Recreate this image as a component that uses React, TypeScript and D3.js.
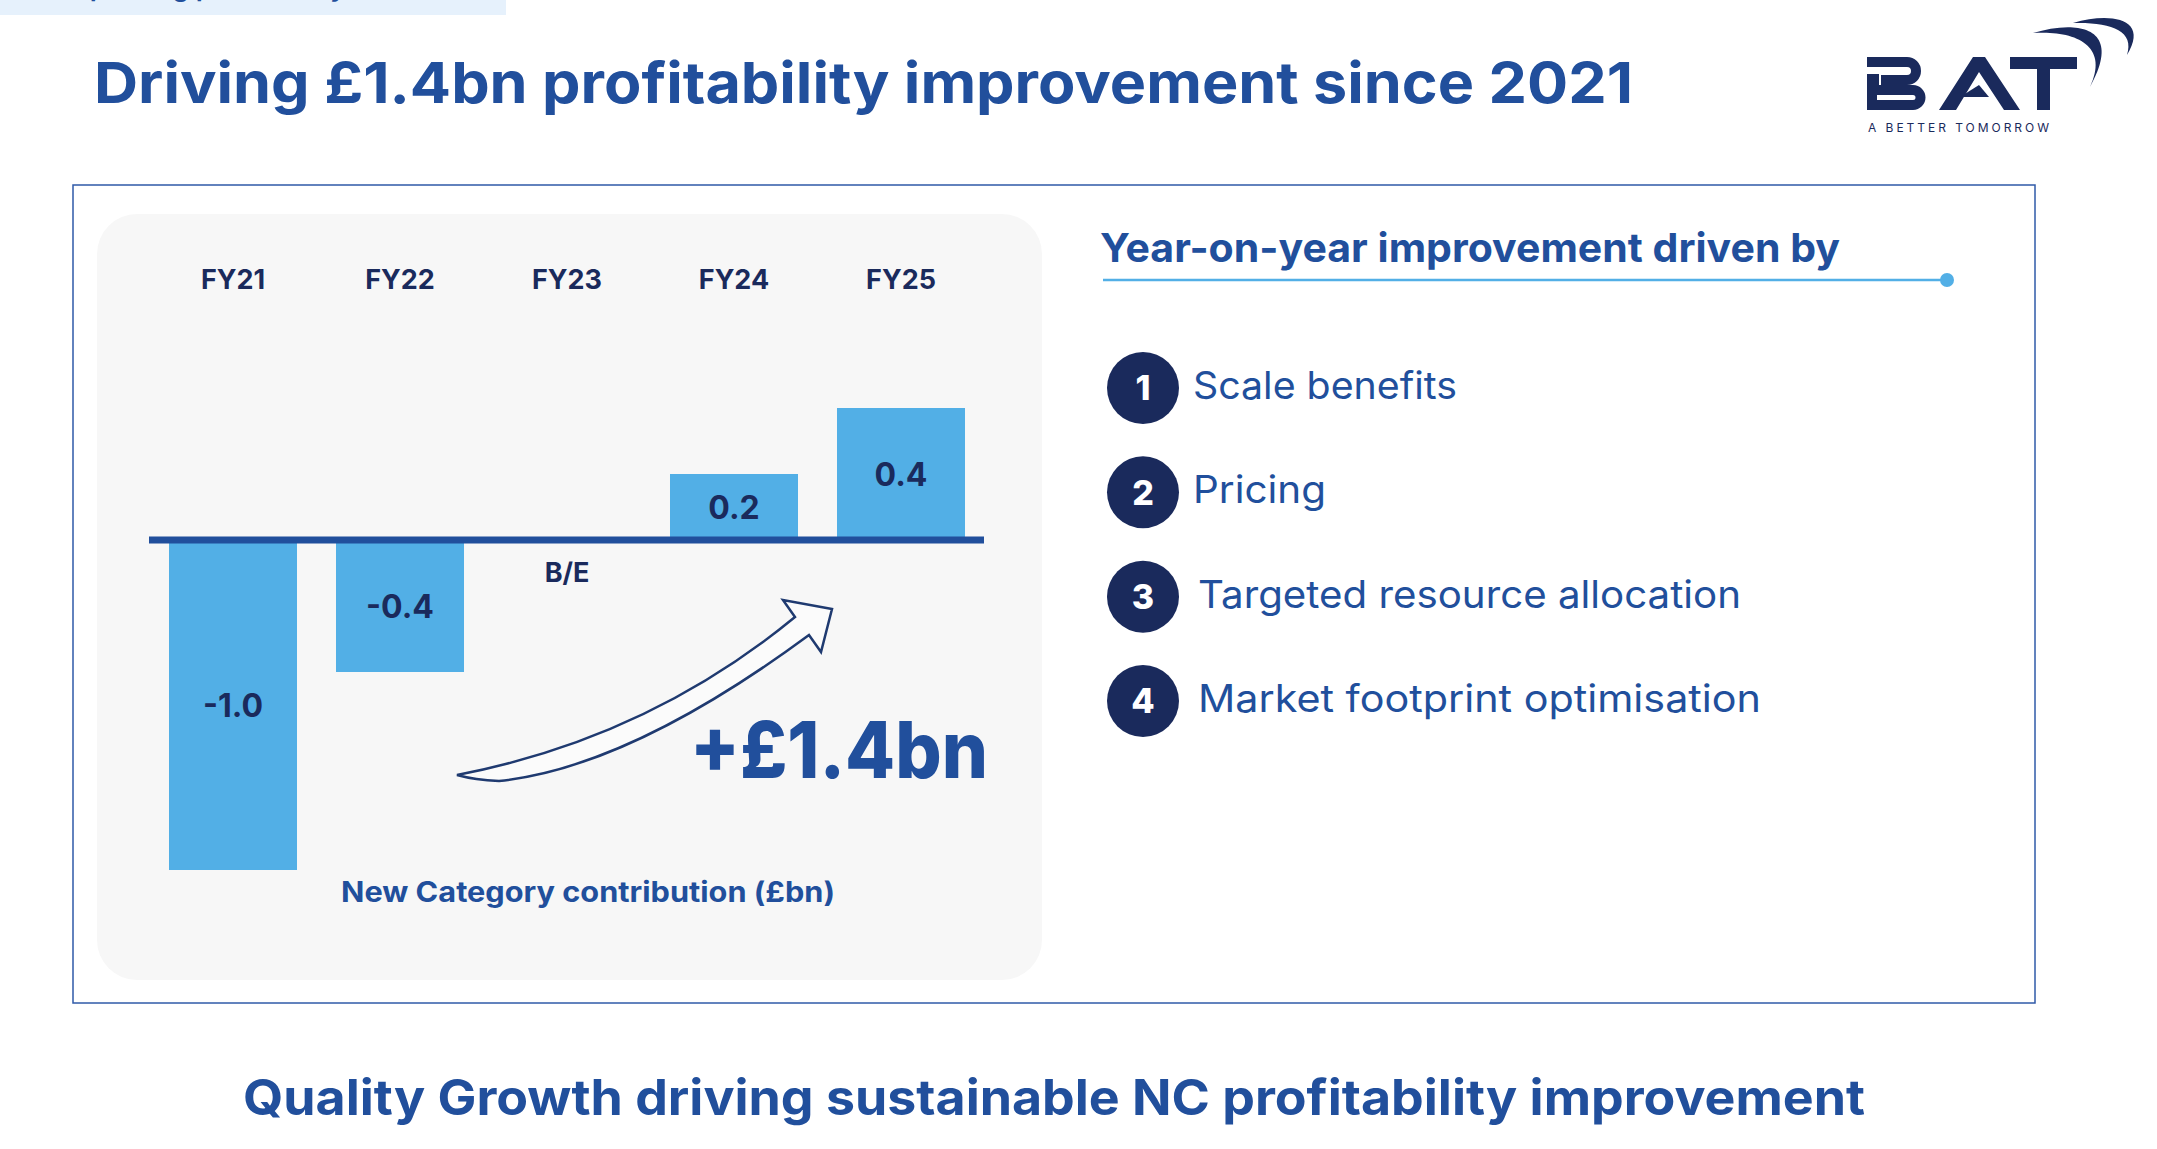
import React from 'react';
import * as d3 from 'd3';

// New Category contribution by fiscal year (£bn)
const years = ['FY21', 'FY22', 'FY23', 'FY24', 'FY25'];
const contribution = [-1.0, -0.4, 0, 0.2, 0.4];
const valueLabels = ['-1.0', '-0.4', 'B/E', '0.2', '0.4'];

// drivers listed on the right
const drivers = [
  'Scale benefits',
  'Pricing',
  'Targeted resource allocation',
  'Market footprint optimisation',
];
const driverWidths = [264, 133, 543, 563];

const W = 2157;
const H = 1149;
const NAVY = '#1a2a5c';
const BLUE = '#214f9c';
const SKY = '#52afe6';
const SANS = 'Inter, "Open Sans", sans-serif';

export default function App() {
  const x = d3
    .scaleBand<string>()
    .domain(years)
    .range([149.5, 984.5])
    .paddingInner(0.2335)
    .paddingOuter(0.11675);

  const y = d3.scaleLinear().domain([-1, 0]).range([870, 540]);

  const itemY = d3.scaleLinear().domain([0, drivers.length - 1]).range([388, 701]);

  return (
    <svg
      width={W}
      height={H}
      viewBox={`0 0 ${W} ${H}`}
      style={{ position: 'absolute', left: 0, top: 0, background: '#fff' }}
    >
      {/* section tab at the top edge */}
      <rect x={0} y={0} width={506} height={15} fill="#e6f1fc" />
      <text x={58} y={-4} fontFamily={SANS} fontWeight={600} fontSize={27} fill={BLUE}>
        Improving profitability
      </text>

      {/* title */}
      <text
        x={94}
        y={103}
        fontFamily={SANS}
        fontWeight={700}
        fontSize={57}
        fill={BLUE}
        textLength={1539}
        lengthAdjust="spacingAndGlyphs"
      >
        Driving £1.4bn profitability improvement since 2021
      </text>

      {/* BAT logo */}
      <g transform="translate(1867,57)" fill={NAVY}>
        <path d="M0,5 H40 A9,9 0 0 1 40,23 H14" fill="none" stroke={NAVY} strokeWidth={10} />
        <rect x={0} y={17} width={12} height={13} />
        <path d="M0,33 H46 A7.5,7.5 0 0 1 46,48 H0" fill="none" stroke={NAVY} strokeWidth={10} />
        <rect x={0} y={30} width={10} height={23} />
        <path d="M72,53 L106,0 H118 L153,53 H137 L112,15 L89,53 Z" />
        <path d="M93,40 L112,28 L122,40 Z" />
        <rect x={143} y={0} width={67} height={12} />
        <rect x={170} y={0} width={13} height={53} />
      </g>
      <path d="M2033,33 C2075,20 2125,25 2090,87 C2110,45 2075,30 2033,33 Z" fill={NAVY} />
      <path d="M2073,23 C2110,12 2150,18 2127,55 C2135,30 2110,22 2073,23 Z" fill={NAVY} />
      <text
        x={1868}
        y={132}
        fontFamily={SANS}
        fontSize={12}
        fill={NAVY}
        textLength={181}
        lengthAdjust="spacing"
      >
        A BETTER TOMORROW
      </text>

      {/* framed panel */}
      <rect x={73} y={185} width={1962} height={818} fill="none" stroke="#2f5aa8" strokeWidth={1.5} />
      <rect x={97} y={214} width={945} height={766} rx={40} fill="#f7f7f7" />

      {/* year headers */}
      {years.map((yr) => (
        <text
          key={yr}
          x={(x(yr) ?? 0) + x.bandwidth() / 2}
          y={289}
          textAnchor="middle"
          fontFamily={SANS}
          fontWeight={700}
          fontSize={27}
          fill={NAVY}
        >
          {yr}
        </text>
      ))}

      {/* bars */}
      {years.map((yr, i) => {
        const v = contribution[i];
        if (v === 0) return null;
        const top = Math.min(y(v), y(0));
        const h = Math.abs(y(v) - y(0));
        return <rect key={yr} x={x(yr)} y={top} width={x.bandwidth()} height={h} fill={SKY} />;
      })}

      {/* zero line */}
      <line x1={149} x2={984} y1={y(0)} y2={y(0)} stroke={BLUE} strokeWidth={7} />

      {/* value labels */}
      {years.map((yr, i) => {
        const v = contribution[i];
        const cx = (x(yr) ?? 0) + x.bandwidth() / 2;
        const cy = v === 0 ? y(0) + 32 : (y(v) + y(0)) / 2;
        return (
          <text
            key={yr}
            x={cx}
            y={cy}
            dy="0.36em"
            textAnchor="middle"
            fontFamily={SANS}
            fontWeight={700}
            fontSize={v === 0 ? 27 : 32}
            fill={NAVY}
          >
            {valueLabels[i]}
          </text>
        );
      })}

      {/* curved arrow */}
      <path
        d="M457,775 Q648,738 795,617 L783,600 L832,609 L821,652 L809,635 Q629.5,767.5 499,781 Q475,780 457,775 Z"
        fill="#fbfbfb"
        stroke="#1f3a70"
        strokeWidth={2.5}
        strokeLinejoin="miter"
      />

      <text
        x={690}
        y={778}
        fontFamily={SANS}
        fontWeight={800}
        fontSize={78}
        fill={BLUE}
        textLength={298}
        lengthAdjust="spacingAndGlyphs"
      >
        +£1.4bn
      </text>

      <text
        x={341}
        y={902}
        fontFamily={SANS}
        fontWeight={700}
        fontSize={28}
        fill={BLUE}
        textLength={494}
        lengthAdjust="spacingAndGlyphs"
      >
        New Category contribution (£bn)
      </text>

      {/* right-hand drivers */}
      <text
        x={1100}
        y={262}
        fontFamily={SANS}
        fontWeight={700}
        fontSize={40}
        fill={BLUE}
        textLength={740}
        lengthAdjust="spacingAndGlyphs"
      >
        Year-on-year improvement driven by
      </text>
      <line x1={1103} x2={1947} y1={280} y2={280} stroke={SKY} strokeWidth={2.5} />
      <circle cx={1947} cy={280} r={7} fill={SKY} />

      {drivers.map((d, i) => (
        <g key={d}>
          <circle cx={1143} cy={itemY(i)} r={36} fill={NAVY} />
          <text
            x={1143}
            y={itemY(i)}
            dy="0.36em"
            textAnchor="middle"
            fontFamily={SANS}
            fontWeight={800}
            fontSize={34}
            fill="#fff"
          >
            {i + 1}
          </text>
          <text
            x={1193 + (i >= 2 ? 5 : 0)}
            y={itemY(i) + 11}
            fontFamily={SANS}
            fontWeight={400}
            fontSize={38}
            fill={BLUE}
            textLength={driverWidths[i]}
            lengthAdjust="spacingAndGlyphs"
          >
            {d}
          </text>
        </g>
      ))}

      {/* closing statement */}
      <text
        x={243}
        y={1115}
        fontFamily={SANS}
        fontWeight={700}
        fontSize={49}
        fill={BLUE}
        textLength={1622}
        lengthAdjust="spacingAndGlyphs"
      >
        Quality Growth driving sustainable NC profitability improvement
      </text>
    </svg>
  );
}
